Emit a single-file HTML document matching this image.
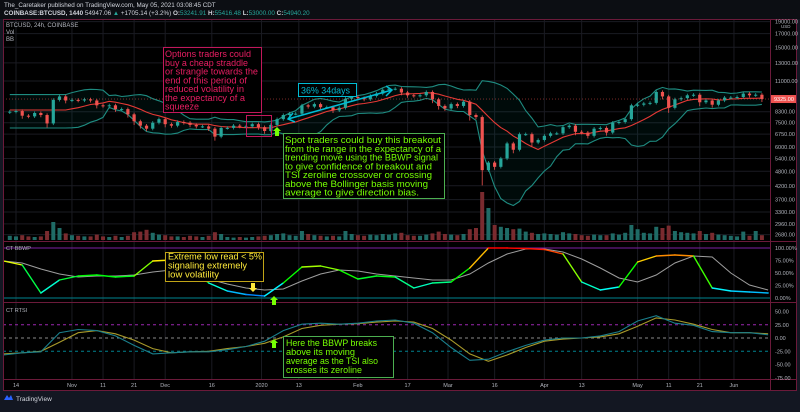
<!DOCTYPE html>
<html><head><meta charset="utf-8"><style>
html,body{margin:0;padding:0;background:#131722;}
body{width:800px;height:407px;overflow:hidden;font-family:"Liberation Sans",sans-serif;}
svg text{font-family:"Liberation Sans",sans-serif;}
</style></head><body>
<svg id="chart" width="800" height="407" viewBox="0 0 800 407" xmlns="http://www.w3.org/2000/svg">
<rect x="0" y="0" width="800" height="407" fill="#131722"/>
<rect x="0" y="0" width="800" height="19" fill="#0c0e13"/>
<text x="4" y="7" font-size="6.3" fill="#d1d4dc">The_Caretaker published on TradingView.com, May 05, 2021 03:08:45 CDT</text>
<text x="4" y="15" font-size="6.3" fill="#d1d4dc"><tspan font-weight="bold">COINBASE:BTCUSD, 1440</tspan> 54947.06 <tspan fill="#26a69a">▲</tspan> +1705.14 (+3.2%) <tspan font-weight="bold">O:</tspan><tspan fill="#26a69a">53241.91</tspan> <tspan font-weight="bold">H:</tspan><tspan fill="#26a69a">55416.48</tspan> <tspan font-weight="bold">L:</tspan><tspan fill="#26a69a">53000.00</tspan> <tspan font-weight="bold">C:</tspan><tspan fill="#26a69a">54940.20</tspan></text>
<rect x="3" y="19" width="794" height="372" fill="#000"/>
<g id="grid"></g>
<g id="main"></g>
<g id="bbwp"></g>
<g id="tsi"></g>
<g id="frame" fill="none" stroke="#6b1a3a" stroke-width="1">
<rect x="3.5" y="19.5" width="793" height="371"/>
<line x1="3" y1="241.5" x2="797" y2="241.5"/>
<line x1="3" y1="302.5" x2="797" y2="302.5"/>
<line x1="3" y1="379.5" x2="797" y2="379.5"/>
<line x1="770.5" y1="19" x2="770.5" y2="391"/>
</g>
<text x="6" y="27" font-size="6" fill="#b2b5be">BTCUSD, 24h, COINBASE</text>
<text x="6" y="34" font-size="6" fill="#b2b5be">Vol</text>
<text x="6" y="41" font-size="6" fill="#b2b5be">BB</text>
<text x="6" y="250" font-size="5.5" fill="#b2b5be">CT BBWP</text>
<text x="6" y="312" font-size="5.5" fill="#b2b5be">CT RTSI</text>
<g id="axes"></g>
<g id="annotations">
<g>
<rect x="163.5" y="47.5" width="98" height="65" fill="#000" stroke="#c2185b"/>
<g font-size="9" fill="#e91e63">
<text x="165" y="57" textLength="86" lengthAdjust="spacingAndGlyphs">Options traders could</text>
<text x="165" y="66" textLength="83" lengthAdjust="spacingAndGlyphs">buy a cheap straddle</text>
<text x="165" y="74.5" textLength="93" lengthAdjust="spacingAndGlyphs">or strangle towards the</text>
<text x="165" y="83.5" textLength="82" lengthAdjust="spacingAndGlyphs">end of this period of</text>
<text x="165" y="92" textLength="79" lengthAdjust="spacingAndGlyphs">reduced volatility in</text>
<text x="165" y="101" textLength="80" lengthAdjust="spacingAndGlyphs">the expectancy of a</text>
<text x="165" y="109.5" textLength="34" lengthAdjust="spacingAndGlyphs">squeeze</text>
</g></g>
<rect x="246.5" y="115.5" width="25" height="21" fill="none" stroke="#c2185b"/>
<g>
<rect x="298.5" y="83.5" width="58" height="13" fill="#000" stroke="#00bcd4"/>
<text x="301" y="93.5" font-size="9" fill="#00bcd4" textLength="49" lengthAdjust="spacingAndGlyphs">36%  34days</text>
</g>
<g stroke="#00bcd4" stroke-width="1.5" fill="none">
<line x1="288" y1="119" x2="392" y2="90"/>
<polyline points="293,113 288,119 295,122"/>
<polyline points="386,86 392,90 386,96"/>
</g>
<g>
<rect x="283.5" y="133.5" width="161" height="65" fill="#000" stroke="#4caf50"/>
<g font-size="9" fill="#76ff03">
<text x="285" y="143" textLength="156" lengthAdjust="spacingAndGlyphs">Spot traders could buy this breakout</text>
<text x="285" y="152" textLength="156" lengthAdjust="spacingAndGlyphs">from the range in the expectancy of a</text>
<text x="285" y="160.5" textLength="153" lengthAdjust="spacingAndGlyphs">trending move using the BBWP signal</text>
<text x="285" y="169.5" textLength="147" lengthAdjust="spacingAndGlyphs">to give confidence of breakout and</text>
<text x="285" y="178" textLength="147" lengthAdjust="spacingAndGlyphs">TSI zeroline crossover or crossing</text>
<text x="285" y="187" textLength="143" lengthAdjust="spacingAndGlyphs">above the Bollinger basis moving</text>
<text x="285" y="195.5" textLength="134" lengthAdjust="spacingAndGlyphs">average to give direction bias.</text>
</g></g>
<polygon points="277,127 281,131 279,131 279,136 275,136 275,131 273,131" fill="#76ff03"/>
<g>
<rect x="165.5" y="252.5" width="98" height="29" fill="#000" stroke="#c0a416"/>
<g font-size="9" fill="#ffeb3b">
<text x="168" y="259.5" textLength="94" lengthAdjust="spacingAndGlyphs">Extreme low read &lt; 5%</text>
<text x="168" y="268.5" textLength="79" lengthAdjust="spacingAndGlyphs">signaling extremely</text>
<text x="168" y="277.5" textLength="51" lengthAdjust="spacingAndGlyphs">low volatility</text>
</g></g>
<polygon points="253,292 257,288 255,288 255,283 251,283 251,288 249,288" fill="#ffeb3b"/>
<polygon points="274,296 278,300 276,300 276,305 272,305 272,300 270,300" fill="#76ff03"/>
<polygon points="274,339 278,343 276,343 276,348 272,348 272,343 270,343" fill="#76ff03"/>
<g>
<rect x="283.5" y="336.5" width="110" height="41" fill="#000" stroke="#4caf50"/>
<g font-size="9" fill="#76ff03">
<text x="286" y="346" textLength="91" lengthAdjust="spacingAndGlyphs">Here the BBWP breaks</text>
<text x="286" y="355" textLength="69" lengthAdjust="spacingAndGlyphs">above its moving</text>
<text x="286" y="364" textLength="92" lengthAdjust="spacingAndGlyphs">average as the TSI also</text>
<text x="286" y="373" textLength="76" lengthAdjust="spacingAndGlyphs">crosses its zeroline</text>
</g></g>
</g>
<g>
<path d="M4 400 l3 -5 l2 3 l2 -3 l2 5 z" fill="#2962ff"/>
<text x="16" y="401" font-size="6.5" fill="#d1d4dc">TradingView</text>
</g>
</svg>
<script>
// ---- data (2-day closes starting Oct 12 2019) ----
const closes=[8300,8350,8000,7950,8200,8050,7450,9250,9550,9200,
9250,9200,9300,9200,8800,8750,8800,8500,8500,8100,7600,7300,7100,7500,7750,
7400,7300,7550,7500,7350,7250,7250,7100,6600,7150,7150,7300,7250,7250,7400,7200,
6950,7350,7750,8050,8150,8150,8800,8700,8900,8650,8650,8400,8600,9350,9500,
9400,9300,9600,9800,10150,10250,10250,9900,9650,9600,9650,9950,9300,8750,8550,
8900,8750,9100,8050,7900,4850,5200,5000,5400,6200,5850,6750,6750,6250,6400,
6650,6800,6800,7200,7300,6900,6850,6650,7100,7150,6850,7500,7550,7750,8800,
8850,8950,9000,9950,9550,8600,9300,9400,9650,9700,9050,9200,8850,9200,9450,9450,
9500,9800,9650,9700,9325];
const volumes=[14,12,16,12,10,12,30,60,40,22,
16,14,12,12,18,12,10,14,10,14,26,28,34,24,18,
16,12,12,10,14,12,10,14,26,20,10,8,10,8,10,12,
14,16,20,22,16,14,30,20,16,14,12,14,12,30,20,
16,14,18,16,20,18,22,24,16,14,14,18,22,28,20,
18,16,20,36,40,120,80,50,44,40,36,38,28,24,20,
22,20,18,26,22,20,16,14,18,16,16,22,18,24,50,
36,24,22,44,40,48,30,26,24,22,30,20,24,18,16,14,
12,28,14,30,16];
const bbwpVals=[74,66,10,36,44,46,42,44,74,76,60,30,14,7,4,30,62,64,56,38,44,42,20,30,32,60,100,100,99,97,88,32,16,22,72,84,86,84,20,14,12,10];
const bbwpMA=[74,70,58,48,42,44,44,46,52,56,52,38,28,20,16,18,34,48,56,54,48,44,40,36,36,48,70,88,98,98,92,78,60,40,32,46,70,84,82,50,26,16];
const tsiVals=[-32,-28,-26,10,16,14,4,-14,-30,-28,-26,-26,-22,-16,-6,14,26,28,26,28,32,34,28,10,-18,-42,-40,-26,-14,-4,0,0,4,12,32,42,28,24,12,10,10,6];
const tsiSignal=[-30,-28,-25,-8,10,14,8,-4,-20,-28,-26,-25,-20,-16,-10,2,18,24,26,27,30,32,30,18,-4,-30,-44,-32,-18,-6,-2,0,2,8,22,38,34,26,16,10,10,8];
const priceTicks=[19000,17000,15000,13000,11000,8300,7500,6750,6000,5400,4800,4200,3700,3300,2960,2680];
const bbwpTicks=[100,75,50,25,0];
const tsiTicks=[50,25,0,-25,-50,-75];
const timeLabels=["14","Nov","11","21","Dec","16","2020","13","Feb","17","Mar","16","Apr","13","May","11","21","Jun"];
const timeDays=[0,18,28,38,48,63,79,91,110,126,139,154,170,182,200,210,220,231];

// ---- scales ----
const NS="http://www.w3.org/2000/svg";
const xDay=d=>16+3.108*d;
const yPrice=p=>1093.5-108.8*Math.log(p);
const yBB=v=>298-0.5*v;
const yTSI=v=>338-0.53*v;
const yVolH=v=>v>60?v*0.4:v*0.3;
const closeDay=i=>-2+2*i;
const sampleDay=i=>-4+6*i;
function mk(tag,attrs,parent){const e=document.createElementNS(NS,tag);for(const k in attrs)e.setAttribute(k,attrs[k]);parent.appendChild(e);return e;}
const grid=document.getElementById('grid'),main=document.getElementById('main'),bb=document.getElementById('bbwp'),ts=document.getElementById('tsi'),axes=document.getElementById('axes');

// grid
timeDays.forEach((d,i)=>{
 const x=xDay(d);
 const l=mk('line',{x1:x,y1:19,x2:x,y2:379,stroke:'#1a1b22','stroke-width':1},grid);
 
 
 const t=mk('text',{x:x,y:387,'font-size':5.5,fill:'#b2b5be','text-anchor':'middle'},axes);
 t.textContent=timeLabels[i];
 
 
});
priceTicks.forEach(p=>{
 const y=yPrice(p);
 const l=mk('line',{x1:3,y1:y,x2:770,y2:y,stroke:'#1a1b22','stroke-width':1},grid);
 
 
 const t=mk('text',{x:775,y:y+2,'font-size':5.5,fill:'#b2b5be'},axes);
 t.textContent=p.toFixed(2);
 
 
});
bbwpTicks.forEach(v=>{
 const t=mk('text',{x:775,y:yBB(v)+2,'font-size':5.5,fill:'#b2b5be'},axes);
 t.textContent=v.toFixed(2)+'%';
 
 
});
tsiTicks.forEach(v=>{
 const t=mk('text',{x:775,y:yTSI(v)+2,'font-size':5.5,fill:'#b2b5be'},axes);
 t.textContent=v.toFixed(2);
 
 
});
const usd=mk('text',{x:781,y:28,'font-size':4.5,fill:'#b2b5be'},axes);
usd.textContent='USD';



// volumes
volumes.forEach((v,i)=>{
 const o=i?closes[i-1]:8250,c=closes[i];
 const h=yVolH(v),x=xDay(closeDay(i));
 const r=mk('rect',{x:x-2,y:240-h,width:4,height:h,fill:c>=o?'#1f6b66':'#7a2b2f'},main);
 
 
});

// bollinger bands (20-day -> 10 samples)
const up=[],lo=[],mid=[];
closes.forEach((c,i)=>{
 const s=Math.max(0,i-9),e=Math.max(i,9);
 const w=closes.slice(s,e+1);
 const m=w.reduce((a,b)=>a+b,0)/w.length;
 const sd=Math.sqrt(w.reduce((a,b)=>a+(b-m)*(b-m),0)/w.length);
 mid.push(m);up.push(m+2*sd);lo.push(m-2*sd);
});
const pts=a=>a.map((v,i)=>xDay(closeDay(i)).toFixed(1)+','+yPrice(v).toFixed(1)).join(' ');
const fill=mk('polygon',{points:pts(up)+' '+pts(lo).split(' ').reverse().join(' '),fill:'rgba(0,150,136,0.07)'},main);


const ub=mk('polyline',{points:pts(up),fill:'none',stroke:'#1e8b80','stroke-width':1.1},main);


const lb=mk('polyline',{points:pts(lo),fill:'none',stroke:'#1e8b80','stroke-width':1.1},main);


const bl=mk('polyline',{points:pts(mid),fill:'none',stroke:'#e53935','stroke-width':1.1},main);



// candles
closes.forEach((c,i)=>{
 const o=i?closes[i-1]:8250;
 const x=xDay(closeDay(i));
 const col=c>=o?'#26a69a':'#ef5350';
 const hi=Math.max(o,c)*1.015,lw=Math.min(o,c)*(0.985-0.3*Math.max(0,(o-c)/o));
 const w=mk('line',{x1:x,y1:yPrice(hi),x2:x,y2:yPrice(lw),stroke:col,'stroke-width':0.8},main);
 
 
 const y1=yPrice(Math.max(o,c)),y2=yPrice(Math.min(o,c));
 const b=mk('rect',{x:x-1.6,y:y1,width:3.2,height:Math.max(1,y2-y1),fill:col},main);
 
 
});
// last price label
const last=closes[closes.length-1];
const ly=yPrice(last);
const pl=mk('line',{x1:3,y1:ly,x2:770,y2:ly,stroke:'#ef5350','stroke-width':0.5,'stroke-dasharray':'1,2'},main);


const pr=mk('rect',{x:771,y:ly-4,width:25,height:8,fill:'#ef5350'},axes);


const pt=mk('text',{x:774,y:ly+2,'font-size':5.5,fill:'#fff'},axes);
pt.textContent=last.toFixed(2);



// BBWP pane
const hl=mk('line',{x1:3,y1:yBB(100),x2:770,y2:yBB(100),stroke:'#7b1fa2','stroke-width':1},bb);


const ll=mk('line',{x1:3,y1:yBB(0),x2:770,y2:yBB(0),stroke:'#00838f','stroke-width':1},bb);


const ma=mk('polyline',{points:bbwpMA.map((v,i)=>xDay(sampleDay(i)).toFixed(1)+','+yBB(v).toFixed(1)).join(' '),fill:'none',stroke:'#9e9e9e','stroke-width':1},bb);


for(let i=1;i<bbwpVals.length;i++){
 const v=(bbwpVals[i]+bbwpVals[i-1])/2;
 const s=mk('line',{x1:xDay(sampleDay(i-1)),y1:yBB(bbwpVals[i-1]),x2:xDay(sampleDay(i)),y2:yBB(bbwpVals[i]),stroke:'hsl('+(220-2.2*v)+',100%,50%)','stroke-width':1.4,'stroke-linecap':'round'},bb);
 
 
}

// TSI pane
[[25,'#9c27b0'],[0,'#8a8a8a'],[-25,'#00838f']].forEach(([v,c])=>{
 const l=mk('line',{x1:3,y1:yTSI(v),x2:770,y2:yTSI(v),stroke:c,'stroke-width':1,'stroke-dasharray':'3,3'},ts);
 
 
});
const sg=mk('polyline',{points:tsiSignal.map((v,i)=>xDay(sampleDay(i)).toFixed(1)+','+yTSI(v).toFixed(1)).join(' '),fill:'none',stroke:'#a89a2a','stroke-width':1.1},ts);


const tl=mk('polyline',{points:tsiVals.map((v,i)=>xDay(sampleDay(i)).toFixed(1)+','+yTSI(v).toFixed(1)).join(' '),fill:'none',stroke:'#1a7f8c','stroke-width':1.1},ts);


</script>
</body></html>
